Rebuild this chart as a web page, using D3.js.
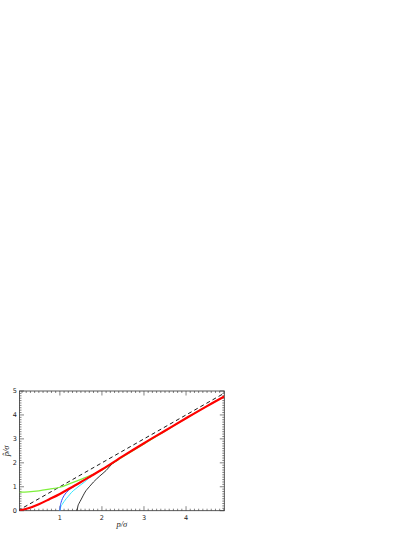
<!DOCTYPE html>
<html>
<head>
<meta charset="utf-8">
<script src="https://cdn.jsdelivr.net/npm/d3@7"></script>
<style>
  body { margin: 0; background: #fff; }
  svg { display: block; }
  .tick-label { font-family: "DejaVu Sans", sans-serif; font-size: 6.5px; fill: #222; }
  .axis-title { font-family: "Liberation Serif", serif; font-style: italic; font-size: 8.5px; fill: #222; }
</style>
</head>
<body>
<svg></svg>
<script>
const width = 415;
const height = 537;
const plotLeft = 19.5, plotRight = 224.3, plotTop = 391, plotBottom = 510.7;

// data
const dashX = [0, 4.91];
const dashY = [0, 4.91];

const redX = [0.04, 0.25, 0.5, 0.75, 1, 1.25, 1.5, 1.75, 2, 2.5, 3, 3.5, 4, 4.5, 4.91];
const redY = [0.01, 0.1, 0.27, 0.48, 0.7, 0.95, 1.2, 1.46, 1.72, 2.28, 2.82, 3.34, 3.86, 4.37, 4.77];

const greenX = [0.04, 0.25, 0.5, 0.75, 1, 1.25, 1.5, 1.75, 2, 2.5, 3, 3.5, 4, 4.5, 4.91];
const greenY = [0.78, 0.79, 0.83, 0.9, 0.98, 1.14, 1.31, 1.49, 1.7, 2.25, 2.79, 3.32, 3.86, 4.37, 4.77];

const blueX = [1, 1.01, 1.03, 1.06, 1.1, 1.15, 1.2, 1.28, 1.36, 1.45];
const blueY = [0, 0.2, 0.35, 0.5, 0.63, 0.75, 0.84, 0.95, 1.04, 1.14];

const cyanX = [1, 1.02, 1.05, 1.1, 1.15, 1.2, 1.28, 1.38, 1.48, 1.58, 1.7];
const cyanY = [0, 0.15, 0.25, 0.38, 0.5, 0.6, 0.77, 0.92, 1.06, 1.19, 1.38];

const blackX = [1.41, 1.43, 1.46, 1.5, 1.55, 1.6, 1.7, 1.8, 1.95, 2.1, 2.25, 2.4];
const blackY = [0, 0.2, 0.32, 0.45, 0.62, 0.78, 1.0, 1.2, 1.45, 1.68, 1.97, 2.14];

const xTicks = [1, 2, 3, 4];
const yTicks = [0, 1, 2, 3, 4, 5];

let svg = d3.select("svg").attr("width", width).attr("height", height);
svg.append("rect").attr("width", width).attr("height", height).attr("fill", "#fff");

let sx = d3.scaleLinear().domain([0.04, 4.91]).range([plotLeft, plotRight]);
let sy = d3.scaleLinear().domain([0, 5]).range([plotBottom, plotTop]);

// minor + major ticks on all four sides, pointing inward
let minorX = d3.range(1, 50).map(d => d / 10).filter(d => !xTicks.includes(d));
let minorY = d3.range(1, 50).map(d => d / 10).filter(d => !yTicks.includes(d));

let g = svg.append("g").attr("stroke", "#333").attr("stroke-width", 0.6);
function tickX(vals, len) {
    vals.forEach(v => {
        g.append("line").attr("x1", sx(v)).attr("x2", sx(v)).attr("y1", plotBottom).attr("y2", plotBottom - len);
        g.append("line").attr("x1", sx(v)).attr("x2", sx(v)).attr("y1", plotTop).attr("y2", plotTop + len);
    });
}
function tickY(vals, len) {
    vals.forEach(v => {
        g.append("line").attr("y1", sy(v)).attr("y2", sy(v)).attr("x1", plotLeft).attr("x2", plotLeft + len);
        g.append("line").attr("y1", sy(v)).attr("y2", sy(v)).attr("x1", plotRight).attr("x2", plotRight - len);
    });
}
tickX(minorX, 2);
tickX(xTicks, 4.5);
tickY(minorY, 2);
tickY(yTicks, 4.5);

svg.append("rect")
    .attr("x", plotLeft).attr("y", plotTop)
    .attr("width", plotRight - plotLeft).attr("height", plotBottom - plotTop)
    .attr("fill", "none").attr("stroke", "#333").attr("stroke-width", 0.8);

svg.selectAll(".xl").data(xTicks).enter().append("text")
    .attr("class", "tick-label")
    .attr("x", d => sx(d)).attr("y", plotBottom + 9)
    .attr("text-anchor", "middle")
    .text(d => d);

svg.selectAll(".yl").data(yTicks).enter().append("text")
    .attr("class", "tick-label")
    .attr("x", plotLeft - 2.5).attr("y", d => sy(d) + 2.3)
    .attr("text-anchor", "end")
    .text(d => d);

svg.append("text").attr("class", "axis-title")
    .attr("x", (plotLeft + plotRight) / 2).attr("y", plotBottom + 16)
    .attr("text-anchor", "middle")
    .text("p/σ");

svg.append("text").attr("class", "axis-title")
    .attr("transform", `translate(9, ${(plotTop + plotBottom) / 2}) rotate(-90)`)
    .attr("text-anchor", "middle")
    .text("p\u0302/σ");

// curves
let line = d3.line().x(d => sx(d[0])).y(d => sy(d[1])).curve(d3.curveMonotoneX);
svg.append("clipPath").attr("id", "clip").append("rect")
    .attr("x", plotLeft).attr("y", plotTop).attr("width", plotRight - plotLeft).attr("height", plotBottom - plotTop);
let plot = svg.append("g").attr("clip-path", "url(#clip)");

function drawCurve(xs, ys, color, w, dash) {
    plot.append("path")
        .datum(d3.zip(xs, ys))
        .attr("d", line)
        .attr("fill", "none")
        .attr("stroke", color)
        .attr("stroke-width", w)
        .attr("stroke-dasharray", dash || null);
}

drawCurve(dashX, dashY, "#000", 0.9, "4,3");
drawCurve(greenX, greenY, "#7ff03c", 1.2);
drawCurve(cyanX, cyanY, "#33e6ff", 1);
drawCurve(blueX, blueY, "#2f4cff", 1);
drawCurve(blackX, blackY, "#000", 0.8);
drawCurve(redX, redY, "#ff0000", 2.2);
</script>
</body>
</html>
